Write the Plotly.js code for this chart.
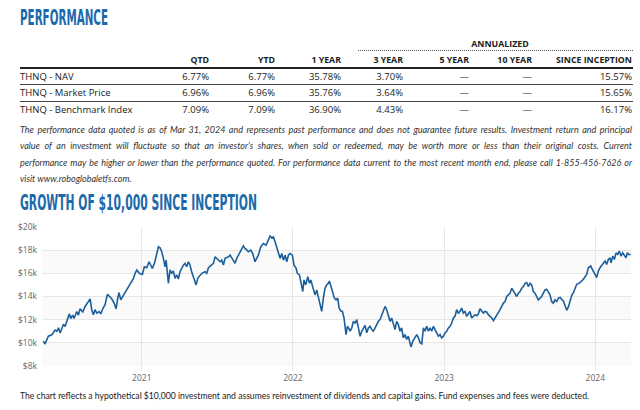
<!DOCTYPE html>
<html><head><meta charset="utf-8">
<script src="https://cdn.plot.ly/plotly-3.0.1.min.js"></script>
<style>
html,body{margin:0;padding:0;background:#fff;}
body{width:640px;height:410px;overflow:hidden;position:relative;font-family:"Open Sans","Noto Sans",sans-serif;color:#222;}
#chart{position:absolute;left:0;top:0;width:640px;height:410px;z-index:0;}
.t{position:absolute;white-space:nowrap;z-index:2;}
.h{font-family:"DejaVu Sans Condensed","DejaVu Sans",sans-serif;font-weight:bold;color:#1c6aab;font-size:20.5px;line-height:24px;height:24px;transform-origin:0 50%;}
.hd{font-weight:bold;font-size:8.8px;line-height:12px;height:12px;}
.cell{font-size:9.5px;line-height:12px;height:12px;}
.rule{position:absolute;left:20px;width:613px;z-index:2;}
.para{position:absolute;left:20px;width:612px;font-style:italic;font-family:"Lato","Open Sans",sans-serif;font-size:9px;line-height:12px;height:12px;color:#333;white-space:nowrap;text-align:justify;text-align-last:justify;z-index:2;}
</style></head>
<body>
<div id="chart"></div>
<div class="t h fit" data-w="88" style="left:20px;top:6px;">PERFORMANCE</div>
<div class="t h fit" data-w="237" style="left:20px;top:190.5px;">GROWTH OF $10,000 SINCE INCEPTION</div>
<div id="table"></div>
<div id="notes"></div>
<div class="t fit" id="footer" data-w="569" style="left:20px;top:389px;font-size:9.6px;line-height:14px;font-family:'Lato','Open Sans',sans-serif;color:#222;transform-origin:0 50%;"></div>
<script>
// ---------- performance table data ----------
const perfColumns = ["QTD", "YTD", "1 YEAR", "3 YEAR", "5 YEAR", "10 YEAR", "SINCE INCEPTION"];
const annualizedLabel = "ANNUALIZED";
const perfRowLabels = ["THNQ - NAV", "THNQ - Market Price", "THNQ - Benchmark Index"];
const navReturns = ["6.77%", "6.77%", "35.78%", "3.70%", "\u2014", "\u2014", "15.57%"];
const marketPriceReturns = ["6.96%", "6.96%", "35.76%", "3.64%", "\u2014", "\u2014", "15.65%"];
const benchmarkReturns = ["7.09%", "7.09%", "36.90%", "4.43%", "\u2014", "\u2014", "16.17%"];

const disclaimerLines = [
  "The performance data quoted is as of Mar 31, 2024 and represents past performance and does not guarantee future results. Investment return and principal",
  "value of an investment will fluctuate so that an investor\u2019s shares, when sold or redeemed, may be worth more or less than their original costs. Current",
  "performance may be higher or lower than the performance quoted. For performance data current to the most recent month end, please call 1-855-456-7626 or",
  "visit www.roboglobaletfs.com."
];
const footerText = "The chart reflects a hypothetical $10,000 investment and assumes reinvestment of dividends and capital gains. Fund expenses and fees were deducted.";

// ---------- growth of $10,000 data (decimal year, value in $) ----------
const growthDates = [
 2020.349,2020.360,2020.382,2020.405,2020.427,2020.438,2020.449,2020.460,2020.482,2020.493,
 2020.504,2020.521,2020.530,2020.543,2020.552,2020.570,2020.581,2020.592,2020.610,2020.625,
 2020.640,2020.658,2020.669,2020.680,2020.691,2020.702,2020.718,2020.729,2020.742,2020.757,
 2020.773,2020.786,2020.801,2020.817,2020.830,2020.841,2020.850,2020.861,2020.879,2020.901,
 2020.923,2020.934,2020.945,2020.956,2020.967,2020.984,
 2021.004,2021.017,2021.033,2021.048,2021.062,2021.070,2021.084,2021.099,2021.110,2021.121,
 2021.132,2021.143,2021.154,2021.161,2021.170,2021.176,2021.187,2021.198,2021.209,2021.220,
 2021.231,2021.242,2021.253,2021.264,2021.275,2021.286,2021.297,2021.308,2021.319,2021.330,
 2021.341,2021.352,2021.359,2021.370,2021.386,2021.397,2021.419,2021.430,2021.441,2021.458,
 2021.474,2021.485,2021.496,2021.507,2021.518,2021.529,2021.540,2021.551,2021.562,2021.573,
 2021.584,2021.595,2021.606,2021.617,2021.628,2021.644,2021.657,2021.672,2021.683,2021.690,
 2021.705,2021.721,2021.734,2021.749,2021.760,2021.771,2021.787,2021.804,2021.822,2021.838,
 2021.849,2021.860,2021.871,2021.882,2021.893,2021.904,2021.915,2021.926,2021.937,2021.948,
 2021.959,2021.970,2021.981,2021.996,
 2022.007,2022.021,2022.029,2022.043,2022.054,2022.065,2022.073,2022.084,2022.098,2022.109,
 2022.118,2022.131,2022.146,2022.157,2022.168,2022.179,2022.190,2022.201,2022.212,2022.223,
 2022.234,2022.241,2022.250,2022.261,2022.274,2022.285,2022.296,2022.305,2022.316,2022.327,
 2022.338,2022.351,2022.360,2022.371,2022.378,2022.389,2022.400,2022.411,2022.422,2022.433,
 2022.444,2022.455,2022.466,2022.477,2022.488,2022.499,2022.510,2022.521,2022.532,2022.543,
 2022.554,2022.565,2022.576,2022.587,2022.598,2022.609,2022.620,2022.631,2022.642,2022.653,
 2022.664,2022.675,2022.686,2022.697,2022.708,2022.719,2022.730,2022.741,2022.752,2022.763,
 2022.774,2022.781,2022.792,2022.808,2022.819,2022.830,2022.841,2022.852,2022.863,2022.874,
 2022.885,2022.896,2022.907,2022.918,2022.929,2022.940,2022.951,2022.962,2022.973,2022.984,
 2022.995,
 2023.006,2023.017,2023.028,2023.039,2023.050,2023.061,2023.072,2023.083,2023.094,2023.105,
 2023.116,2023.127,2023.138,2023.149,2023.160,2023.171,2023.182,2023.193,2023.204,2023.215,
 2023.226,2023.237,2023.248,2023.259,2023.270,2023.281,2023.292,2023.304,2023.315,2023.326,
 2023.337,2023.348,2023.359,2023.370,2023.381,2023.392,2023.403,2023.414,2023.425,2023.436,
 2023.447,2023.458,2023.469,2023.480,2023.491,2023.502,2023.513,2023.524,2023.535,2023.546,
 2023.557,2023.568,2023.579,2023.590,2023.601,2023.612,2023.623,2023.634,2023.645,2023.656,
 2023.667,2023.678,2023.689,2023.700,2023.711,2023.722,2023.733,2023.745,2023.756,2023.767,
 2023.789,2023.811,2023.822,2023.833,2023.844,2023.855,2023.877,2023.899,2023.921,2023.943,
 2023.954,2023.969,2023.983,2023.998,
 2024.009,2024.020,2024.031,2024.049,2024.064,2024.075,2024.086,2024.097,2024.104,2024.115,
 2024.126,2024.137,2024.148,2024.159,2024.170,2024.181,2024.192,2024.203,2024.212,2024.221,
 2024.234
];
const growthValues = [
 10140,9900,10570,10700,11100,11000,11300,10850,11600,11400,
 11860,12500,12100,12400,12100,12700,12400,12940,12660,13140,
 13430,13800,12860,12430,12860,12570,12700,12500,12940,13290,
 14200,14000,13800,13430,12940,13860,14340,13710,14090,14570,
 15140,15340,15570,16000,16290,16000,
 15900,16570,16490,17000,16700,16430,16860,17710,18290,18200,
 17860,17290,16570,17140,15860,15140,16290,16000,16200,15570,
 15860,15510,16140,16430,16710,16860,16570,17000,16710,16140,
 15710,15290,15000,15570,15860,16000,16140,16000,16490,16710,
 16860,17430,17290,17230,17000,17140,16710,17290,17340,17430,
 17570,17340,17140,16860,17290,17710,17910,18370,18140,18090,
 17860,18000,17710,17000,17290,17570,18290,18570,18430,18860,
 19230,19060,19140,18710,18290,17860,17290,17710,17140,17570,
 17000,17570,17710,17570,
 16710,16430,16000,15860,15140,14430,15430,15000,15710,15140,
 15430,14710,14140,14570,14000,13290,12710,13860,14710,15000,
 15140,15340,14860,14290,13860,13710,13860,13000,12770,12710,
 12140,10710,11430,11230,11000,11290,11860,11710,12000,11290,
 10570,11000,11290,11510,10860,11290,11430,11140,11000,11290,
 11710,11860,12000,12430,12710,13140,12860,12290,11860,12140,
 11570,11140,11860,11570,11000,11290,10430,10710,10290,10570,
 10000,9630,10140,10430,10710,10430,10000,9910,11290,11000,
 11430,11000,11290,11000,11430,11140,10860,10570,10710,10430,
 10570,
 10860,11000,11290,11430,11710,12140,12290,12860,12570,12710,
 13000,12570,12710,12290,12570,12710,12140,12290,12430,12340,
 12490,12940,12710,12570,12710,12660,12430,12290,12140,11910,
 12140,12290,12570,12860,13140,13430,13570,14000,14140,14290,
 14710,14430,14140,14000,14290,14430,14710,14860,15140,15200,
 14860,15140,15000,14430,14290,14000,13710,13860,14000,14290,
 14570,14630,14430,14140,13570,13430,13710,13570,13860,13910,
 13600,12810,13100,13680,14100,14340,15060,15200,15490,15910,
 16490,16630,16340,15910,
 15630,16200,16490,16770,17060,16770,17200,17340,16910,17490,
 17200,17770,17630,17910,17490,17770,17540,17340,17770,17630,
 17630
];
const yearTickValues = [2021, 2022, 2023, 2024];
const yearTickLabels = ["2021", "2022", "2023", "2024"];
const valueTicks = [8000, 10000, 12000, 14000, 16000, 18000, 20000];
const valueTickLabels = ["$8k", "$10k", "$12k", "$14k", "$16k", "$18k", "$20k"];

// ---------- build HTML table ----------
const colRightEdges = [209, 275, 341, 403, 469, 532, 632];
const tbl = document.getElementById('table');
function addText(parent, txt, cls, x, yc, align, h) {
  const d = document.createElement('div');
  d.className = 't ' + cls;
  d.textContent = txt;
  d.style.top = (yc - h / 2) + 'px';
  if (align === 'right') { d.style.right = (640 - x) + 'px'; d.style.textAlign = 'right'; }
  else if (align === 'center') { d.style.left = (x - 60) + 'px'; d.style.width = '120px'; d.style.textAlign = 'center'; }
  else { d.style.left = x + 'px'; }
  parent.appendChild(d);
}
function addRule(parent, y, h, style) {
  const d = document.createElement('div');
  d.className = 'rule';
  d.style.top = y + 'px';
  d.style.height = '0px';
  d.style.borderTop = h + 'px ' + style;
  parent.appendChild(d);
}
addText(tbl, annualizedLabel, 'hd', 500, 44, 'center', 12);
const dot = document.createElement('div');
dot.style.cssText = 'position:absolute;left:358px;width:275px;top:50px;height:0;border-top:1px dotted #555;z-index:2;';
tbl.appendChild(dot);
perfColumns.forEach((c, i) => addText(tbl, c, 'hd', colRightEdges[i], 60, 'right', 12));
addRule(tbl, 66.5, 2, 'solid #222');
const rowsData = [navReturns, marketPriceReturns, benchmarkReturns];
const rowCenters = [76.5, 93, 109.5];
perfRowLabels.forEach((lab, r) => {
  addText(tbl, lab, 'cell', 20, rowCenters[r], 'left', 12);
  rowsData[r].forEach((v, i) => addText(tbl, v, 'cell', colRightEdges[i], rowCenters[r], 'right', 12));
});
addRule(tbl, 83.5, 1, 'solid #444');
addRule(tbl, 100.5, 1, 'solid #444');

const notes = document.getElementById('notes');
const noteCenters = [129.5, 146, 162.5, 179];
disclaimerLines.forEach((line, i) => {
  const d = document.createElement('div');
  d.className = 'para';
  d.textContent = line;
  d.style.top = (noteCenters[i] - 6) + 'px';
  if (i === disclaimerLines.length - 1) d.style.textAlignLast = 'left';
  notes.appendChild(d);
});
document.getElementById('footer').textContent = footerText;

function fitWidths() {
  document.querySelectorAll('.fit').forEach(el => {
    el.style.transform = 'none';
    const w = el.getBoundingClientRect().width;
    const target = parseFloat(el.dataset.w);
    if (w > 0) el.style.transform = 'scaleX(' + (target / w).toFixed(4) + ')';
  });
}
fitWidths();
if (document.fonts && document.fonts.ready) document.fonts.ready.then(fitWidths);

// ---------- chart ----------
const bands = [];
for (let i = 0; i < valueTicks.length - 1; i += 2) {
  bands.push({type: 'rect', xref: 'paper', yref: 'y', x0: 0, x1: 1,
    y0: valueTicks[i], y1: valueTicks[i + 1], fillcolor: '#fafafa', line: {width: 0}, layer: 'below'});
}
Plotly.newPlot('chart', [{
  type: 'scatter', mode: 'lines', x: growthDates, y: growthValues,
  line: {color: '#1d5f9b', width: 1.6}, hoverinfo: 'skip'
}], {
  width: 640, height: 410,
  margin: {l: 42, r: 9, t: 227, b: 44, pad: 0},
  paper_bgcolor: 'rgba(0,0,0,0)', plot_bgcolor: '#ffffff',
  showlegend: false,
  shapes: bands,
  xaxis: {range: [2020.34, 2024.236], tickvals: yearTickValues, ticktext: yearTickLabels,
    showgrid: true, gridcolor: '#e6e6e6', gridwidth: 1, zeroline: false, showline: false,
    ticks: 'outside', ticklen: 4, tickcolor: '#e6e6e6',
    tickfont: {family: 'Open Sans, sans-serif', size: 8.5, color: '#666'}},
  yaxis: {range: [8000, 20000], tickvals: valueTicks, ticktext: valueTickLabels,
    showgrid: true, gridcolor: '#e6e6e6', gridwidth: 1, zeroline: false, showline: false,
    ticks: '', ticklabelstandoff: 4,
    tickfont: {family: 'Open Sans, sans-serif', size: 8.5, color: '#666'}}
}, {staticPlot: true, displayModeBar: false});
</script>
</body></html>
